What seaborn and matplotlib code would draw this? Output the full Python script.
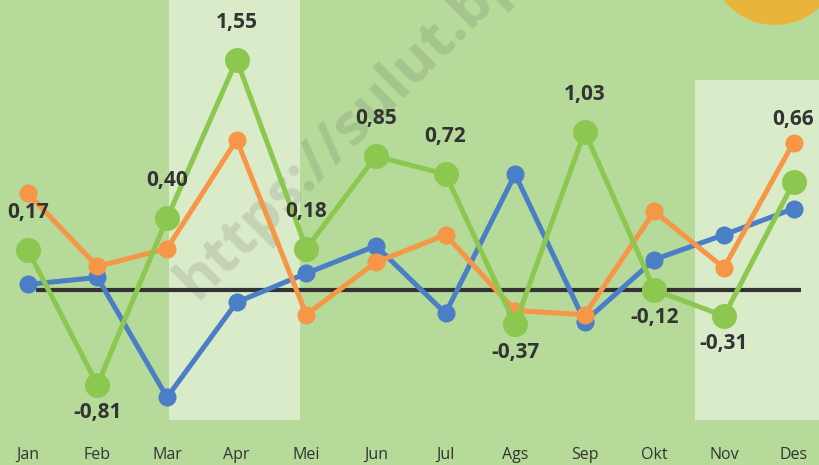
import numpy as np
import pandas as pd
import seaborn as sns
import matplotlib.pyplot as plt
from matplotlib.patches import Ellipse

bulan = ['Jan', 'Feb', 'Mar', 'Apr', 'Mei', 'Jun', 'Jul', 'Ags', 'Sep', 'Okt', 'Nov', 'Des']
seri_biru = [-0.08, -0.03, -0.90, -0.21, 0.00, 0.20, -0.29, 0.72, -0.35, 0.10, 0.28, 0.47]
seri_oranye = [0.58, 0.05, 0.18, 0.97, -0.30, 0.08, 0.28, -0.27, -0.30, 0.45, 0.04, 0.95]
seri_hijau = [0.17, -0.81, 0.40, 1.55, 0.18, 0.85, 0.72, -0.37, 1.03, -0.12, -0.31, 0.66]
garis_acuan = -0.12

bg = '#b5da99'
band = '#d9ebc8'
c_blue = '#4a7ec6'
c_orange = '#f79646'
c_green = '#8cc84f'
dark = '#333333'

sns.set_style('white')
plt.rcParams['font.family'] = ['Open Sans', 'DejaVu Sans']

df = pd.DataFrame({'x': np.arange(len(bulan)), 'biru': seri_biru,
                   'oranye': seri_oranye, 'hijau': seri_hijau})

fig = plt.figure(figsize=(8.2, 4.65), dpi=100)
fig.patch.set_facecolor(bg)
ax = fig.add_axes([0, 25 / 465, 1, 440 / 465])
ax.set_facecolor(bg)

# lighter bands
ax.axvspan(2.03, 3.91, ymin=20 / 440, ymax=1, color=band, lw=0, zorder=0)
ax.axvspan(9.58, 12, ymin=20 / 440, ymax=360 / 440, color=band, lw=0, zorder=0)

# watermark
ax.text(2.42, -0.2, 'https://sulut.bps.go.id', rotation=45,
        rotation_mode='anchor', fontsize=42, fontweight='bold',
        color='#555555', alpha=0.16, ha='left', va='baseline', zorder=1,
        clip_on=True)

ax.hlines(garis_acuan, 0.12, 11.1, color=dark, lw=3, zorder=2)

sns.lineplot(data=df, x='x', y='biru', color=c_blue, lw=3.6, marker='o',
             markersize=13, markeredgewidth=0, ax=ax, zorder=3)
sns.lineplot(data=df, x='x', y='oranye', color=c_orange, lw=3.6, marker='o',
             markersize=13, markeredgewidth=0, ax=ax, zorder=4)
sns.lineplot(data=df, x='x', y='hijau', color=c_green, lw=3.6, marker='o',
             markersize=18, markeredgewidth=0, ax=ax, zorder=5)

for i, v in enumerate(seri_hijau):
    if v >= 0:
        off = 45 if bulan[i] == 'Des' else 27
    else:
        off = -20
    ax.annotate(f'{v:.2f}'.replace('.', ','), (i, v), xytext=(0, off),
                textcoords='offset points', ha='center', va='center',
                fontsize=15, fontweight='bold', color=dark, zorder=6)

ax.set_xlim(-0.40, 11.38)
ax.set_ylim(-1.21, 1.985)
ax.set_xticks(range(len(bulan)))
ax.set_xticklabels(bulan, fontsize=11.5, color=dark)
ax.tick_params(axis='x', length=0, pad=5)
ax.set_yticks([])
ax.set_xlabel('')
ax.set_ylabel('')
for s in ax.spines.values():
    s.set_visible(False)

# yellow circle in the corner
fig.patches.append(Ellipse((775 / 820, 1 + 40 / 465), 130 / 820, 130 / 465,
                           transform=fig.transFigure, color='#eab43a', lw=0,
                           zorder=10))

fig.savefig('out.png', dpi=100, facecolor=bg)
